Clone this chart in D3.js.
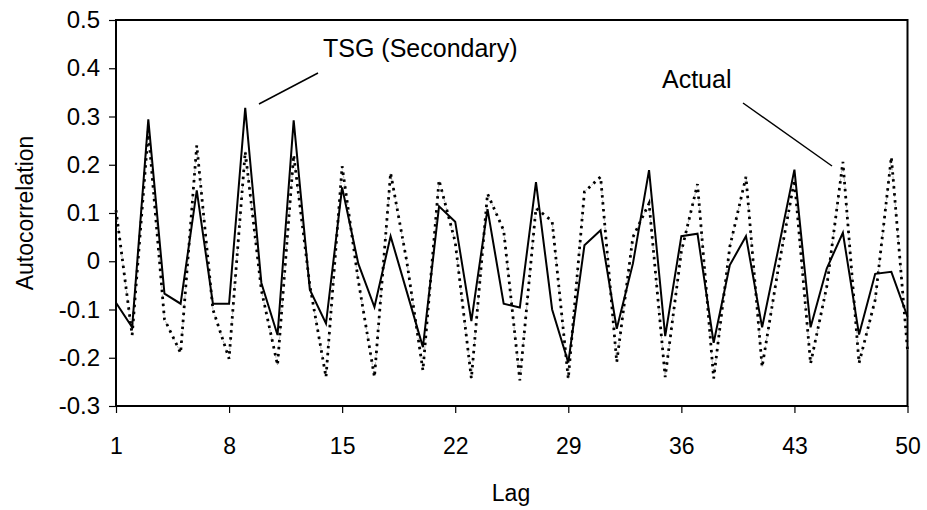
<!DOCTYPE html>
<html>
<head>
<meta charset="utf-8">
<script src="https://cdn.jsdelivr.net/npm/d3@7"></script>
<style>
  body { margin: 0; background: #fff; }
  text { font-family: "Liberation Sans", Arial, sans-serif; fill: #000; }
</style>
</head>
<body>
<svg id="chart" width="927" height="510"></svg>
<script>
//  lags on the x axis
const lags = d3.range(1, 51);
const xTicks = [1, 8, 15, 22, 29, 36, 43, 50];
const yTicks = [-0.3, -0.2, -0.1, 0, 0.1, 0.2, 0.3, 0.4, 0.5];
const yTickLabels = ["-0.3", "-0.2", "-0.1", "0", "0.1", "0.2", "0.3", "0.4", "0.5"];

//  solid line: TSG (Secondary)
const tsgValues = [
    -0.086, -0.137, 0.294, -0.067, -0.088, 0.147, -0.088, -0.088, 0.318, -0.045,
    -0.153, 0.292, -0.059, -0.129, 0.153, -0.005, -0.095, 0.052, -0.063, -0.178,
    0.114, 0.082, -0.124, 0.108, -0.088, -0.096, 0.164, -0.100, -0.210, 0.033,
    0.064, -0.140, -0.005, 0.189, -0.155, 0.052, 0.057, -0.169, -0.008, 0.052,
    -0.137, 0.025, 0.190, -0.137, -0.015, 0.059, -0.152, -0.026, -0.022, -0.115
];

//  dotted line: Actual
const actualValues = [
    0.106, -0.153, 0.270, -0.120, -0.190, 0.240, -0.100, -0.202, 0.227, -0.060,
    -0.215, 0.220, -0.050, -0.240, 0.197, -0.040, -0.240, 0.183, 0.000, -0.226,
    0.168, 0.040, -0.243, 0.140, 0.064, -0.247, 0.110, 0.083, -0.243, 0.144,
    0.175, -0.209, 0.050, 0.120, -0.240, 0.020, 0.160, -0.243, 0.030, 0.175,
    -0.219, -0.015, 0.168, -0.212, -0.053, 0.206, -0.211, -0.080, 0.216, -0.184
];

const svg = d3.select("#chart");
const plotLeft = 116, plotRight = 907.5, plotTop = 20, plotBottom = 406;

const x = d3.scaleLinear().domain([1, 50]).range([plotLeft, plotRight]);
const y = d3.scaleLinear().domain([-0.3, 0.5]).range([plotBottom, plotTop]);

//  axes
const yAxis = d3.axisLeft(y).tickValues(yTicks)
    .tickFormat((d, i) => yTickLabels[i]).tickSize(7).tickPadding(9);
const gy = svg.append("g").attr("transform", `translate(${plotLeft},0)`).call(yAxis);
gy.attr("font-size", null).attr("font-family", null);
gy.selectAll("text").style("font-size", "24px");

const xAxis = d3.axisBottom(x).tickValues(xTicks).tickSize(7).tickPadding(25);
const gx = svg.append("g").attr("transform", `translate(0,${plotBottom})`).call(xAxis);
gx.attr("font-size", null).attr("font-family", null);
gx.selectAll("text").style("font-size", "23px");

svg.selectAll(".domain").remove();
svg.selectAll(".tick line").attr("stroke", "#000").attr("stroke-width", 1.2);

//  plot frame
svg.append("rect").attr("x", plotLeft).attr("y", plotTop)
    .attr("width", plotRight - plotLeft).attr("height", plotBottom - plotTop)
    .attr("fill", "none").attr("stroke", "#000").attr("stroke-width", 2);

const line = d3.line().x((d, i) => x(lags[i])).y(d => y(d));

//  faint thin trace under the dotted series
svg.append("path").datum(actualValues).attr("d", line)
    .attr("fill", "none").attr("stroke", "#999").attr("stroke-width", 0.7)
    .attr("stroke-dasharray", "3,6");

svg.append("path").datum(actualValues).attr("d", line)
    .attr("fill", "none").attr("stroke", "#000").attr("stroke-width", 2.8)
    .attr("stroke-dasharray", "2.5,4.5");

svg.append("path").datum(tsgValues).attr("d", line)
    .attr("fill", "none").attr("stroke", "#000").attr("stroke-width", 2)
    .attr("stroke-linejoin", "miter");

//  annotations
svg.append("text").attr("x", 323).attr("y", 57).style("font-size", "25px")
    .text("TSG (Secondary)");
svg.append("line").attr("x1", 259).attr("y1", 104).attr("x2", 318).attr("y2", 73)
    .attr("stroke", "#000").attr("stroke-width", 1.5);

svg.append("text").attr("x", 662).attr("y", 88).style("font-size", "25px")
    .text("Actual");
svg.append("line").attr("x1", 743).attr("y1", 103).attr("x2", 832).attr("y2", 166)
    .attr("stroke", "#000").attr("stroke-width", 1.5);

//  axis titles
svg.append("text").attr("transform", "translate(33,213) rotate(-90)")
    .attr("text-anchor", "middle").style("font-size", "23px")
    .text("Autocorrelation");
svg.append("text").attr("x", 511).attr("y", 501)
    .attr("text-anchor", "middle").style("font-size", "23px")
    .text("Lag");
</script>
</body>
</html>
